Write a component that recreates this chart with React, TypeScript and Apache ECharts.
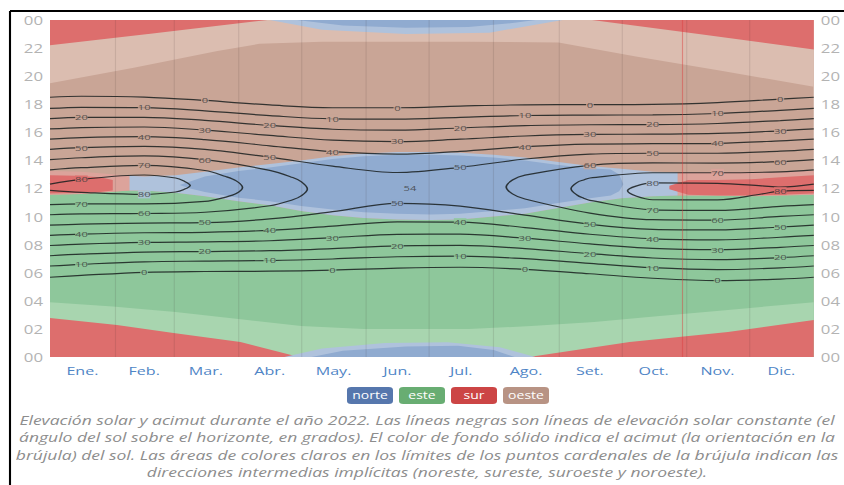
import React, { useEffect, useRef } from "react";
import * as echarts from "echarts";

// ---------- axes ----------
const MONTHS = ["Ene.", "Feb.", "Mar.", "Abr.", "May.", "Jun.", "Jul.", "Ago.", "Set.", "Oct.", "Nov.", "Dic."];
const MONTH_MID_DAYS = [15.5, 45, 74.5, 105, 135.5, 166, 196.5, 227.5, 258, 288.5, 319, 349.5];
const MONTH_START_DAYS = [31, 59, 90, 120, 151, 181, 212, 243, 273, 304, 334];
const MARKER_DAY = 302;
const YEAR_DAYS = 365;
const DAY_HOURS = 24;
const HOUR_STEP = 2;

// ---------- elevation contour lines (hour of day, read per sample day) ----------
const DAYS = [0, 15, 45, 74, 105, 135, 166, 196, 227, 258, 288, 319, 349, 365];
const AM0 = [5.68, 5.81, 6.03, 6.09, 6.11, 6.19, 6.33, 6.39, 6.24, 5.93, 5.61, 5.44, 5.55, 5.68];
const PM0 = [18.5, 18.57, 18.51, 18.27, 17.95, 17.75, 17.75, 17.87, 17.96, 17.97, 17.99, 18.12, 18.37, 18.5];
const AM10 = [6.48, 6.6, 6.78, 6.83, 6.87, 6.98, 7.14, 7.19, 7.0, 6.67, 6.36, 6.22, 6.35, 6.48];
const PM10 = [17.7, 17.78, 17.76, 17.53, 17.19, 16.96, 16.94, 17.07, 17.2, 17.23, 17.24, 17.34, 17.57, 17.7];
const AM20 = [7.21, 7.32, 7.47, 7.51, 7.57, 7.72, 7.92, 7.95, 7.72, 7.36, 7.05, 6.93, 7.08, 7.21];
const PM20 = [16.97, 17.06, 17.07, 16.85, 16.49, 16.22, 16.16, 16.31, 16.48, 16.54, 16.55, 16.63, 16.84, 16.97];
const AM30 = [7.94, 8.04, 8.16, 8.2, 8.28, 8.5, 8.74, 8.75, 8.46, 8.05, 7.73, 7.64, 7.81, 7.94];
const PM30 = [16.24, 16.34, 16.38, 16.16, 15.78, 15.44, 15.34, 15.51, 15.74, 15.85, 15.87, 15.92, 16.11, 16.24];
const AM40 = [8.66, 8.75, 8.85, 8.88, 9.02, 9.32, 9.63, 9.61, 9.22, 8.74, 8.41, 8.34, 8.53, 8.66];
const PM40 = [15.52, 15.63, 15.69, 15.48, 15.04, 14.62, 14.45, 14.65, 14.98, 15.16, 15.19, 15.22, 15.39, 15.52];
const AM50 = [9.39, 9.47, 9.54, 9.57, 9.83, 10.35, 10.94, 10.75, 10.1, 9.45, 9.09, 9.05, 9.26, 9.39];
const PM50 = [14.79, 14.91, 15.0, 14.79, 14.23, 13.59, 13.14, 13.51, 14.1, 14.45, 14.51, 14.51, 14.66, 14.79];

// closed contours (loops) near noon
const L60_DAYS = [0, 15, 45, 74, 105, 116, 120, 123];
const L60_AM = [10.13, 10.19, 10.22, 10.31, 10.77, 11.2, 11.47, 11.97];
const L60_PM = [14.05, 14.19, 14.32, 14.05, 13.29, 12.78, 12.49, 11.97];
const R60_DAYS = [218, 221, 227, 258, 288, 319, 349, 365];
const R60_AM = [12.11, 11.62, 11.25, 10.25, 9.78, 9.75, 10.01, 10.13];
const R60_PM = [12.11, 12.6, 12.95, 13.65, 13.82, 13.81, 13.91, 14.05];
const L70_DAYS = [0, 15, 45, 74, 84, 89, 92];
const L70_AM = [10.85, 10.9, 10.9, 11.08, 11.39, 11.64, 12.07];
const L70_PM = [13.33, 13.48, 13.64, 13.28, 12.85, 12.54, 12.07];
const R70_DAYS = [249, 252, 255, 258, 288, 319, 349, 365];
const R70_AM = [11.99, 11.52, 11.31, 11.15, 10.48, 10.44, 10.73, 10.85];
const R70_PM = [11.99, 12.44, 12.61, 12.75, 13.12, 13.12, 13.19, 13.33];
const L80_DAYS = [0, 15, 45, 60, 64, 67];
const L80_AM = [11.87, 11.73, 11.58, 11.75, 11.93, 12.22];
const L80_PM = [12.31, 12.65, 12.96, 12.75, 12.53, 12.22];
const R80_DAYS = [276, 280, 288, 319, 340, 349, 365];
const R80_AM = [11.84, 11.47, 11.2, 11.19, 11.61, 11.82, 11.87];
const R80_PM = [11.84, 12.17, 12.4, 12.37, 12.19, 12.1, 12.31];

// contour labels: [line, day, text, background key]
const CONTOUR_LABELS: [string, number, string, string][] = [
  ["am0", 45, "0", "E"], ["am0", 135, "0", "E"], ["am0", 227, "0", "E"], ["am0", 319, "0", "E"],
  ["am10", 15, "10", "E"], ["am10", 105, "10", "E"], ["am10", 196, "10", "E"], ["am10", 288, "10", "E"],
  ["am20", 74, "20", "E"], ["am20", 166, "20", "E"], ["am20", 258, "20", "E"], ["am20", 349, "20", "E"],
  ["am30", 45, "30", "E"], ["am30", 135, "30", "E"], ["am30", 227, "30", "E"], ["am30", 319, "30", "E"],
  ["am40", 15, "40", "E"], ["am40", 105, "40", "E"], ["am40", 196, "40", "E"], ["am40", 288, "40", "E"],
  ["am50", 74, "50", "E"], ["am50", 166, "50", "N"], ["am50", 258, "50", "E"], ["am50", 349, "50", "E"],
  ["am60L", 45, "60", "E"], ["am60R", 319, "60", "E"],
  ["am70L", 15, "70", "E"], ["am70R", 288, "70", "E"],
  ["am80L", 45, "80", "NL"], ["am80R", 349, "80", "S"],
  ["pm0", 74, "0", "W"], ["pm0", 166, "0", "W"], ["pm0", 258, "0", "W"], ["pm0", 349, "0", "W"],
  ["pm10", 45, "10", "W"], ["pm10", 135, "10", "W"], ["pm10", 227, "10", "W"], ["pm10", 319, "10", "W"],
  ["pm20", 15, "20", "W"], ["pm20", 105, "20", "W"], ["pm20", 196, "20", "W"], ["pm20", 288, "20", "W"],
  ["pm30", 74, "30", "W"], ["pm30", 166, "30", "W"], ["pm30", 258, "30", "W"], ["pm30", 349, "30", "W"],
  ["pm40", 45, "40", "W"], ["pm40", 135, "40", "W"], ["pm40", 227, "40", "W"], ["pm40", 319, "40", "W"],
  ["pm50", 15, "50", "W"], ["pm50", 105, "50", "W"], ["pm50", 196, "50", "N"], ["pm50", 288, "50", "W"],
  ["pm60L", 74, "60", "W"], ["pm60R", 258, "60", "W"], ["pm60R", 349, "60", "W"],
  ["pm70L", 45, "70", "W"], ["pm70R", 319, "70", "SL"],
  ["pm80L", 15, "80", "S"], ["pm80R", 288, "80", "NL"],
];
const PEAK_LABEL = { day: 172, hour: 12.05, text: "54" };

// ---------- azimuth background regions (hour boundaries per day) ----------
const NOON_DAYS = [0, 15, 38, 45, 60, 74, 90, 105, 120, 135, 150, 166, 182, 196, 212, 227, 242, 258, 273, 288, 300, 319, 335, 349, 365];
const GREEN_TOP = [11.55, 11.6, 11.85, 11.85, 11.7, 11.45, 11.1, 10.8, 10.4, 10.1, 9.9, 9.8, 9.75, 9.8, 10.0, 10.2, 10.6, 11.0, 11.3, 11.45, 11.5, 11.5, 11.45, 11.5, 11.55];
const BROWN_BOTTOM = [13.25, 13.2, 12.9, 12.85, 12.95, 13.2, 13.5, 13.75, 14.0, 14.3, 14.5, 14.6, 14.6, 14.55, 14.4, 14.2, 13.9, 13.6, 13.4, 13.2, 13.15, 13.2, 13.2, 13.2, 13.25];
const RED_NOON_L_DAYS = [0, 12, 24, 30];
const RED_NOON_L_LOW = [11.65, 11.68, 11.75, 11.85];
const RED_NOON_L_HIGH = [12.95, 12.9, 12.8, 12.6];
const RED_NOON_R_DAYS = [296, 305, 319, 335, 349, 365];
const RED_NOON_R_LOW = [11.95, 11.55, 11.5, 11.5, 11.55, 11.65];
const RED_NOON_R_HIGH = [12.2, 12.6, 12.6, 12.65, 12.8, 12.95];
const BLUE_NOON_DAYS = [62, 67, 74, 90, 105, 120, 135, 150, 166, 182, 196, 212, 227, 242, 258, 268, 272, 274];
const BLUE_NOON_LOW = [12.25, 12.0, 11.75, 11.35, 11.1, 10.75, 10.5, 10.3, 10.2, 10.15, 10.2, 10.4, 10.6, 10.95, 11.3, 11.5, 11.8, 12.3];
const BLUE_NOON_HIGH = [12.25, 12.5, 12.85, 13.25, 13.5, 13.8, 14.1, 14.3, 14.4, 14.4, 14.35, 14.2, 14.0, 13.7, 13.45, 13.35, 13.0, 12.3];

const BOTTOM_LIGHT_DAYS = [0, 30, 60, 90, 120, 150, 200, 230, 260, 290, 320, 365];
const BOTTOM_LIGHT_TOP = [3.9, 3.6, 3.2, 2.7, 2.2, 2.0, 2.0, 2.2, 2.5, 2.9, 3.3, 3.9];
const RED_BOTTOM_L_DAYS = [0, 32, 59, 91, 119];
const RED_BOTTOM_L_TOP = [2.78, 2.28, 1.71, 1.07, 0];
const RED_BOTTOM_R_DAYS = [229, 277, 324, 365];
const RED_BOTTOM_R_TOP = [0, 1.07, 1.78, 2.64];
const BLUE_BOTTOM_LIGHT_DAYS = [112, 130, 160, 190, 215, 232];
const BLUE_BOTTOM_LIGHT_TOP = [0, 0.6, 1.0, 1.05, 0.7, 0];
const BLUE_BOTTOM_DAYS = [125, 140, 170, 195, 212, 222];
const BLUE_BOTTOM_TOP = [0, 0.45, 0.75, 0.8, 0.5, 0];

const TOP_LIGHT_DAYS = [0, 40, 80, 100, 130, 200, 243, 280, 320, 365];
const TOP_LIGHT_BOTTOM = [19.5, 20.6, 21.8, 22.3, 22.45, 22.45, 22.4, 21.4, 20.4, 19.25];
const RED_TOP_L_DAYS = [0, 50, 104];
const RED_TOP_L_BOTTOM = [22.2, 23.05, 24];
const RED_TOP_R_DAYS = [259, 310, 365];
const RED_TOP_R_BOTTOM = [24, 23.0, 21.9];
const BLUE_TOP_LIGHT_DAYS = [105, 130, 170, 210, 245];
const BLUE_TOP_LIGHT_BOTTOM = [24, 23.3, 23.0, 23.1, 24];
const BLUE_TOP_DAYS = [118, 140, 170, 200, 222, 232];
const BLUE_TOP_BOTTOM = [24, 23.6, 23.45, 23.5, 23.8, 24];

const LEGEND_ITEMS = ["norte", "este", "sur", "oeste"];
const CAPTION_LINES = [
  "Elevación solar y acimut durante el año 2022. Las líneas negras son líneas de elevación solar constante (el",
  "ángulo del sol sobre el horizonte, en grados). El color de fondo sólido indica el acimut (la orientación en la",
  "brújula) del sol. Las áreas de colores claros en los límites de los puntos cardenales de la brújula indican las",
  "direcciones intermedias implícitas (noreste, sureste, suroeste y noroeste).",
];

// ---------- styles / layout ----------
const STRETCH = 1.4; // the reference is horizontally stretched
const W = 844 / STRETCH;
const H = 485;
const C: Record<string, string> = {
  N: "#90abd0", NL: "#afc2dc", E: "#8ec79b", EL: "#a8d5af",
  S: "#dd6e6d", SL: "#dca39b", W: "#c9a596", WL: "#dbbdb0",
};
const LEGEND_COLORS = ["#5677ad", "#68ad72", "#cc4545", "#b89384"];
const FONT = '"Open Sans", "DejaVu Sans", sans-serif';

type Pt = [number, number];
const zip = (d: number[], h: number[]): Pt[] => d.map((x, i) => [x, h[i]] as Pt);
const above = (d: number[], b: number[]): Pt[] => [[d[0], DAY_HOURS], ...zip(d, b), [d[d.length - 1], DAY_HOURS]];
const below = (d: number[], t: number[]): Pt[] => [[d[0], 0], ...zip(d, t), [d[d.length - 1], 0]];
const between = (d: number[], lo: number[], hi: number[]): Pt[] => [...zip(d, lo), ...zip(d, hi).reverse()];
const sl = (a: number[], s: number, e?: number) => a.slice(s, e);

const REGIONS: { pts: Pt[]; color: string }[] = [
  { pts: [[0, 0], [YEAR_DAYS, 0], [YEAR_DAYS, DAY_HOURS], [0, DAY_HOURS]], color: C.W },
  { pts: above(TOP_LIGHT_DAYS, TOP_LIGHT_BOTTOM), color: C.WL },
  { pts: above(RED_TOP_L_DAYS, RED_TOP_L_BOTTOM), color: C.S },
  { pts: above(RED_TOP_R_DAYS, RED_TOP_R_BOTTOM), color: C.S },
  { pts: above(BLUE_TOP_LIGHT_DAYS, BLUE_TOP_LIGHT_BOTTOM), color: C.NL },
  { pts: above(BLUE_TOP_DAYS, BLUE_TOP_BOTTOM), color: C.N },
  { pts: below(NOON_DAYS, GREEN_TOP), color: C.E },
  { pts: below(BOTTOM_LIGHT_DAYS, BOTTOM_LIGHT_TOP), color: C.EL },
  { pts: below(RED_BOTTOM_L_DAYS, RED_BOTTOM_L_TOP), color: C.S },
  { pts: below(RED_BOTTOM_R_DAYS, RED_BOTTOM_R_TOP), color: C.S },
  { pts: below(BLUE_BOTTOM_LIGHT_DAYS, BLUE_BOTTOM_LIGHT_TOP), color: C.NL },
  { pts: below(BLUE_BOTTOM_DAYS, BLUE_BOTTOM_TOP), color: C.N },
  { pts: between(sl(NOON_DAYS, 0, 4), sl(GREEN_TOP, 0, 4), sl(BROWN_BOTTOM, 0, 4)), color: C.SL },
  { pts: between(sl(NOON_DAYS, 2, 21), sl(GREEN_TOP, 2, 21), sl(BROWN_BOTTOM, 2, 21)), color: C.NL },
  { pts: between(sl(NOON_DAYS, 20), sl(GREEN_TOP, 20), sl(BROWN_BOTTOM, 20)), color: C.SL },
  { pts: between(RED_NOON_L_DAYS, RED_NOON_L_LOW, RED_NOON_L_HIGH), color: C.S },
  { pts: between(RED_NOON_R_DAYS, RED_NOON_R_LOW, RED_NOON_R_HIGH), color: C.S },
  { pts: between(BLUE_NOON_DAYS, BLUE_NOON_LOW, BLUE_NOON_HIGH), color: C.N },
];

const leftLoop = (d: number[], am: number[], pm: number[]): Pt[] => [...zip(d, am), ...zip(d, pm).reverse().slice(1)];
const rightLoop = (d: number[], am: number[], pm: number[]): Pt[] => [...zip(d, am).reverse(), ...zip(d, pm).slice(1)];

const LINES: Record<string, { days: number[]; hours: number[] }> = {
  am0: { days: DAYS, hours: AM0 }, pm0: { days: DAYS, hours: PM0 },
  am10: { days: DAYS, hours: AM10 }, pm10: { days: DAYS, hours: PM10 },
  am20: { days: DAYS, hours: AM20 }, pm20: { days: DAYS, hours: PM20 },
  am30: { days: DAYS, hours: AM30 }, pm30: { days: DAYS, hours: PM30 },
  am40: { days: DAYS, hours: AM40 }, pm40: { days: DAYS, hours: PM40 },
  am50: { days: DAYS, hours: AM50 }, pm50: { days: DAYS, hours: PM50 },
  am60L: { days: L60_DAYS, hours: L60_AM }, pm60L: { days: L60_DAYS, hours: L60_PM },
  am60R: { days: R60_DAYS, hours: R60_AM }, pm60R: { days: R60_DAYS, hours: R60_PM },
  am70L: { days: L70_DAYS, hours: L70_AM }, pm70L: { days: L70_DAYS, hours: L70_PM },
  am70R: { days: R70_DAYS, hours: R70_AM }, pm70R: { days: R70_DAYS, hours: R70_PM },
  am80L: { days: L80_DAYS, hours: L80_AM }, pm80L: { days: L80_DAYS, hours: L80_PM },
  am80R: { days: R80_DAYS, hours: R80_AM }, pm80R: { days: R80_DAYS, hours: R80_PM },
};

const PATHS: Pt[][] = [
  zip(DAYS, AM0), zip(DAYS, PM0), zip(DAYS, AM10), zip(DAYS, PM10),
  zip(DAYS, AM20), zip(DAYS, PM20), zip(DAYS, AM30), zip(DAYS, PM30),
  zip(DAYS, AM40), zip(DAYS, PM40), zip(DAYS, AM50), zip(DAYS, PM50),
  leftLoop(L60_DAYS, L60_AM, L60_PM), rightLoop(R60_DAYS, R60_AM, R60_PM),
  leftLoop(L70_DAYS, L70_AM, L70_PM), rightLoop(R70_DAYS, R70_AM, R70_PM),
  leftLoop(L80_DAYS, L80_AM, L80_PM), rightLoop(R80_DAYS, R80_AM, R80_PM),
];

export default function App() {
  const ref = useRef<HTMLDivElement>(null);
  useEffect(() => {
    if (!ref.current) return;
    const chart = echarts.init(ref.current, null, { renderer: "svg" });

    const labelData: any[] = CONTOUR_LABELS.map(([key, day, text, bg]) => {
      const line = LINES[key];
      const h = line.hours[line.days.indexOf(day)];
      return {
        value: [day, h],
        name: text,
        symbolSize: text.length > 1 ? [9, 8] : [5.5, 8],
        itemStyle: { color: C[bg] },
      };
    });
    labelData.push({
      value: [PEAK_LABEL.day, PEAK_LABEL.hour],
      name: PEAK_LABEL.text,
      symbolSize: [9, 8],
      itemStyle: { color: C.N },
    });

    const lineSeries: any[] = PATHS.map((p, i) => ({
      type: "line",
      data: p,
      smooth: 0.35,
      showSymbol: false,
      symbol: "none",
      silent: true,
      z: 3,
      lineStyle: { color: "rgba(25,30,30,0.85)", width: 1.2 },
      ...(i === 0
        ? {
            markLine: {
              silent: true,
              symbol: ["none", "none"],
              label: { show: false },
              data: [
                ...MONTH_START_DAYS.map((d) => ({ xAxis: d, lineStyle: { color: "rgba(60,40,40,0.12)", width: 0.8, type: "solid" } })),
                { xAxis: MARKER_DAY, lineStyle: { color: "rgba(220,60,60,0.45)", width: 0.8, type: "solid" } },
              ],
            },
          }
        : {}),
    }));

    const option: any = {
      animation: false,
      backgroundColor: "#fff",
      grid: { left: 50 / STRETCH, right: 29 / STRETCH, top: 20, bottom: 128 },
      xAxis: {
        type: "value",
        min: 0,
        max: YEAR_DAYS,
        axisLine: { show: false },
        axisTick: { show: false },
        splitLine: { show: false },
        axisLabel: {
          customValues: MONTH_MID_DAYS,
          formatter: (v: number) => MONTHS[MONTH_MID_DAYS.indexOf(v)] ?? "",
          color: "#4f85c6",
          fontSize: 11.5,
          fontFamily: FONT,
          margin: 7,
        },
      },
      yAxis: [0, 1].map((i) => ({
        type: "value",
        min: 0,
        max: DAY_HOURS,
        interval: HOUR_STEP,
        position: i === 0 ? "left" : "right",
        axisLine: { show: false },
        axisTick: { show: false },
        splitLine: { show: false },
        axisLabel: {
          formatter: (v: number) => String(v % DAY_HOURS).padStart(2, "0"),
          color: "#b3b3b3",
          fontSize: 12,
          fontFamily: FONT,
          margin: 5,
        },
      })),
      series: [
        {
          type: "custom",
          coordinateSystem: "cartesian2d",
          silent: true,
          z: 1,
          data: REGIONS.map((_, i) => [i, 0]),
          renderItem: (params: any, api: any) => {
            const r = REGIONS[params.dataIndex];
            return {
              type: "polygon",
              shape: { points: r.pts.map((p) => api.coord(p)) },
              style: { fill: r.color, stroke: null },
            };
          },
        },
        ...lineSeries,
        {
          type: "scatter",
          silent: true,
          z: 4,
          symbol: "rect",
          data: labelData,
          label: {
            show: true,
            position: "inside",
            formatter: "{b}",
            fontSize: 8,
            color: "#3a3a3a",
            fontFamily: FONT,
          },
        },
      ],
      graphic: [
        { type: "line", shape: { x1: 10 / STRETCH, y1: 11, x2: W, y2: 11 }, style: { stroke: "#000", lineWidth: 2 }, silent: true },
        { type: "line", shape: { x1: 10 / STRETCH, y1: 11, x2: 10 / STRETCH, y2: H }, style: { stroke: "#000", lineWidth: 1.5 }, silent: true },
        ...LEGEND_ITEMS.map((t, i) => ({
          type: "group",
          x: (347 + i * 52) / STRETCH,
          y: 387,
          silent: true,
          children: [
            { type: "rect", shape: { x: 0, y: 0, width: 46 / STRETCH, height: 17, r: 3 }, style: { fill: LEGEND_COLORS[i] } },
            {
              type: "text",
              x: 23 / STRETCH,
              y: 8.5,
              style: {
                text: t, fill: "#fff", font: `10px ${FONT}`,
                align: "center", verticalAlign: "middle", textAlign: "center", textVerticalAlign: "middle",
              },
            },
          ],
        })),
        ...CAPTION_LINES.map((t, i) => ({
          type: "text",
          x: 427 / STRETCH,
          y: 420 + i * 17.5,
          silent: true,
          style: {
            text: t, fill: "#8d8d8d", font: `italic 12.5px ${FONT}`,
            align: "center", verticalAlign: "middle", textAlign: "center", textVerticalAlign: "middle",
          },
        })),
      ],
    };
    chart.setOption(option);
    return () => chart.dispose();
  }, []);
  return (
    <div
      ref={ref}
      style={{
        position: "fixed", left: 0, top: 0, width: W, height: H, background: "#fff",
        transform: `scaleX(${STRETCH})`, transformOrigin: "0 0",
      }}
    />
  );
}
